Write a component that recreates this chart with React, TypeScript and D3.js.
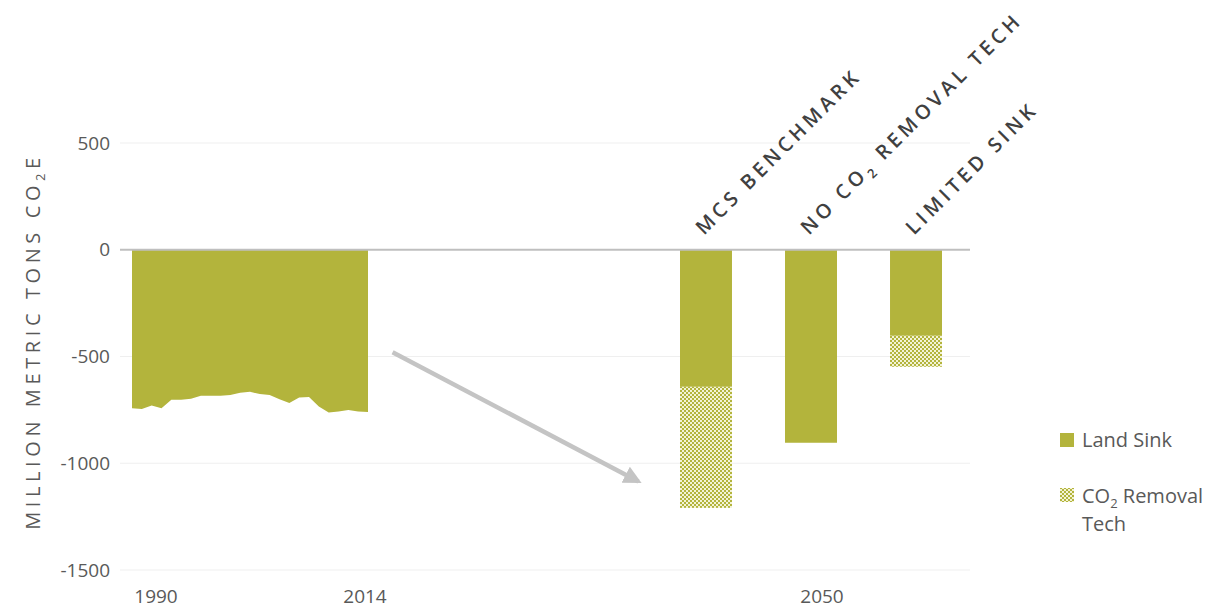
import React, { useEffect, useRef } from 'react';
import * as d3 from 'd3';

const years = d3.range(1990, 2015);
const landSinkHistory = [
  -742, -746, -730, -742, -703, -703, -698, -684, -684, -684, -680, -670, -665,
  -676, -680, -700, -718, -692, -690, -734, -762, -758, -750, -758, -760,
];

const scenarios = ['MCS BENCHMARK', 'NO CO2 REMOVAL TECH', 'LIMITED SINK'];
const scenarioLandSink = [-642, -904, -403];
const scenarioRemoval = [-567, 0, -145];

const yTicks = [500, 0, -500, -1000, -1500];
const xLabels = ['1990', '2014', '2050'];

const OLIVE = '#b3b43c';
const GRAY_TEXT = '#595959';
const FONT = '"Open Sans", sans-serif';

const W = 1226;
const H = 610;

export default function App() {
  const svgRef = useRef<SVGSVGElement>(null);

  useEffect(() => {
    if (!svgRef.current) return;
    const svg = d3.select(svgRef.current);
    svg.selectAll('*').remove();

    const plot = { left: 120, right: 970, top: 143, bottom: 570 };

    const y = d3.scaleLinear().domain([-1500, 500]).range([plot.bottom, plot.top]);
    const xYear = d3.scaleLinear().domain([1990, 2014]).range([132, 368]);
    const xBand = d3.scaleBand<string>()
      .domain(scenarios)
      .range([627.5, 994.5])
      .paddingInner(0.505)
      .paddingOuter(0.5);

    // pattern for CO2 removal tech
    const defs = svg.append('defs');
    const pat = defs.append('pattern')
      .attr('id', 'checker')
      .attr('patternUnits', 'userSpaceOnUse')
      .attr('width', 4)
      .attr('height', 4);
    pat.append('rect').attr('width', 4).attr('height', 4).attr('fill', OLIVE);
    pat.append('rect').attr('x', 0).attr('y', 0).attr('width', 2).attr('height', 2).attr('fill', '#f3f3d6');
    pat.append('rect').attr('x', 2).attr('y', 2).attr('width', 2).attr('height', 2).attr('fill', '#f3f3d6');

    defs.append('marker')
      .attr('id', 'arrowhead')
      .attr('viewBox', '0 0 10 10')
      .attr('refX', 8)
      .attr('refY', 5)
      .attr('markerWidth', 4)
      .attr('markerHeight', 4)
      .attr('markerUnits', 'strokeWidth')
      .attr('orient', 'auto')
      .append('path')
      .attr('d', 'M0,0 L10,5 L0,10 Z')
      .attr('fill', '#c4c4c4');

    // gridlines
    svg.append('g')
      .selectAll('line')
      .data(yTicks.filter(t => t !== 0))
      .join('line')
      .attr('x1', plot.left)
      .attr('x2', plot.right)
      .attr('y1', d => y(d))
      .attr('y2', d => y(d))
      .attr('stroke', '#efefef')
      .attr('stroke-width', 1);

    // y tick labels
    svg.append('g')
      .selectAll('text')
      .data(yTicks)
      .join('text')
      .attr('x', 110)
      .attr('y', d => y(d) + 6.5)
      .attr('text-anchor', 'end')
      .attr('fill', GRAY_TEXT)
      .style('font-family', FONT)
      .style('font-size', '19px')
      .text(d => String(d));

    // y axis title
    const yt = svg.append('text')
      .attr('transform', `translate(40,${(y(500) + y(-1500)) / 2 - 15}) rotate(-90)`)
      .attr('text-anchor', 'middle')
      .attr('fill', GRAY_TEXT)
      .style('font-family', FONT)
      .style('font-size', '20px')
      .style('letter-spacing', '4.6px');
    yt.append('tspan').text('MILLION METRIC TONS CO');
    yt.append('tspan').attr('dy', 5).style('font-size', '13px').text('2');
    yt.append('tspan').attr('dy', -5).text('E');

    // historical area
    const area = d3.area<number>()
      .x((d, i) => xYear(years[i]))
      .y0(y(0))
      .y1(d => y(d))
      .curve(d3.curveLinear);

    svg.append('path')
      .datum(landSinkHistory)
      .attr('fill', OLIVE)
      .attr('d', area);

    // scenario bars
    const bars = svg.append('g');
    scenarios.forEach((s, i) => {
      const x0 = xBand(s)!;
      bars.append('rect')
        .attr('x', x0)
        .attr('width', xBand.bandwidth())
        .attr('y', y(0))
        .attr('height', y(scenarioLandSink[i]) - y(0))
        .attr('fill', OLIVE);
      if (scenarioRemoval[i] !== 0) {
        bars.append('rect')
          .attr('x', x0)
          .attr('width', xBand.bandwidth())
          .attr('y', y(scenarioLandSink[i]))
          .attr('height', y(scenarioLandSink[i] + scenarioRemoval[i]) - y(scenarioLandSink[i]))
          .attr('fill', 'url(#checker)');
      }
    });

    // zero line
    svg.append('line')
      .attr('x1', plot.left)
      .attr('x2', plot.right)
      .attr('y1', y(0))
      .attr('y2', y(0))
      .attr('stroke', '#bfbfbf')
      .attr('stroke-width', 2);

    // arrow annotation
    const arrowFrom = { year: 2016.5, value: -480 };
    const arrowTo = { year: 2041.5, value: -1085 };
    svg.append('line')
      .attr('x1', xYear(arrowFrom.year))
      .attr('y1', y(arrowFrom.value))
      .attr('x2', xYear(arrowTo.year))
      .attr('y2', y(arrowTo.value))
      .attr('stroke', '#c4c4c4')
      .attr('stroke-width', 4.5)
      .attr('marker-end', 'url(#arrowhead)');

    // rotated scenario labels
    scenarios.forEach(s => {
      const cx = xBand(s)! + xBand.bandwidth() / 2;
      const t = svg.append('text')
        .attr('transform', `translate(${cx - 2},${y(0) - 14}) rotate(-45)`)
        .attr('fill', '#404040')
        .style('font-family', FONT)
        .style('font-size', '20px')
        .style('font-weight', 600)
        .style('letter-spacing', '4px');
      if (s.includes('CO2')) {
        const [a, b] = s.split('CO2');
        t.append('tspan').text(a + 'CO');
        t.append('tspan').attr('dy', 5).style('font-size', '13px').text('2');
        t.append('tspan').attr('dy', -5).text(b);
      } else {
        t.text(s);
      }
    });

    // x labels
    const xLabelPos = [xYear(1990) + 24, xYear(2014) - 3, xBand(scenarios[1])! + xBand.bandwidth() / 2 + 11];
    svg.append('g')
      .selectAll('text')
      .data(xLabels)
      .join('text')
      .attr('x', (d, i) => xLabelPos[i])
      .attr('y', 603)
      .attr('text-anchor', 'middle')
      .attr('fill', GRAY_TEXT)
      .style('font-family', FONT)
      .style('font-size', '19px')
      .text(d => d);

    // legend
    const lg = svg.append('g').attr('transform', 'translate(1060,433)');
    lg.append('rect').attr('width', 14).attr('height', 14).attr('fill', OLIVE);
    lg.append('text')
      .attr('x', 22).attr('y', 14)
      .attr('fill', GRAY_TEXT)
      .style('font-family', FONT)
      .style('font-size', '20px')
      .text('Land Sink');
    lg.append('rect').attr('y', 55).attr('width', 14).attr('height', 14).attr('fill', 'url(#checker)');
    const l2 = lg.append('text')
      .attr('x', 22).attr('y', 70)
      .attr('fill', GRAY_TEXT)
      .style('font-family', FONT)
      .style('font-size', '20px');
    l2.append('tspan').text('CO');
    l2.append('tspan').attr('dy', 5).style('font-size', '13px').text('2');
    l2.append('tspan').attr('dy', -5).text(' Removal');
    lg.append('text')
      .attr('x', 22).attr('y', 98)
      .attr('fill', GRAY_TEXT)
      .style('font-family', FONT)
      .style('font-size', '20px')
      .text('Tech');
  }, []);

  return (
    <svg
      ref={svgRef}
      width={W}
      height={H}
      viewBox={`0 0 ${W} ${H}`}
      style={{ position: 'absolute', left: 0, top: 0, background: '#fff' }}
    />
  );
}
